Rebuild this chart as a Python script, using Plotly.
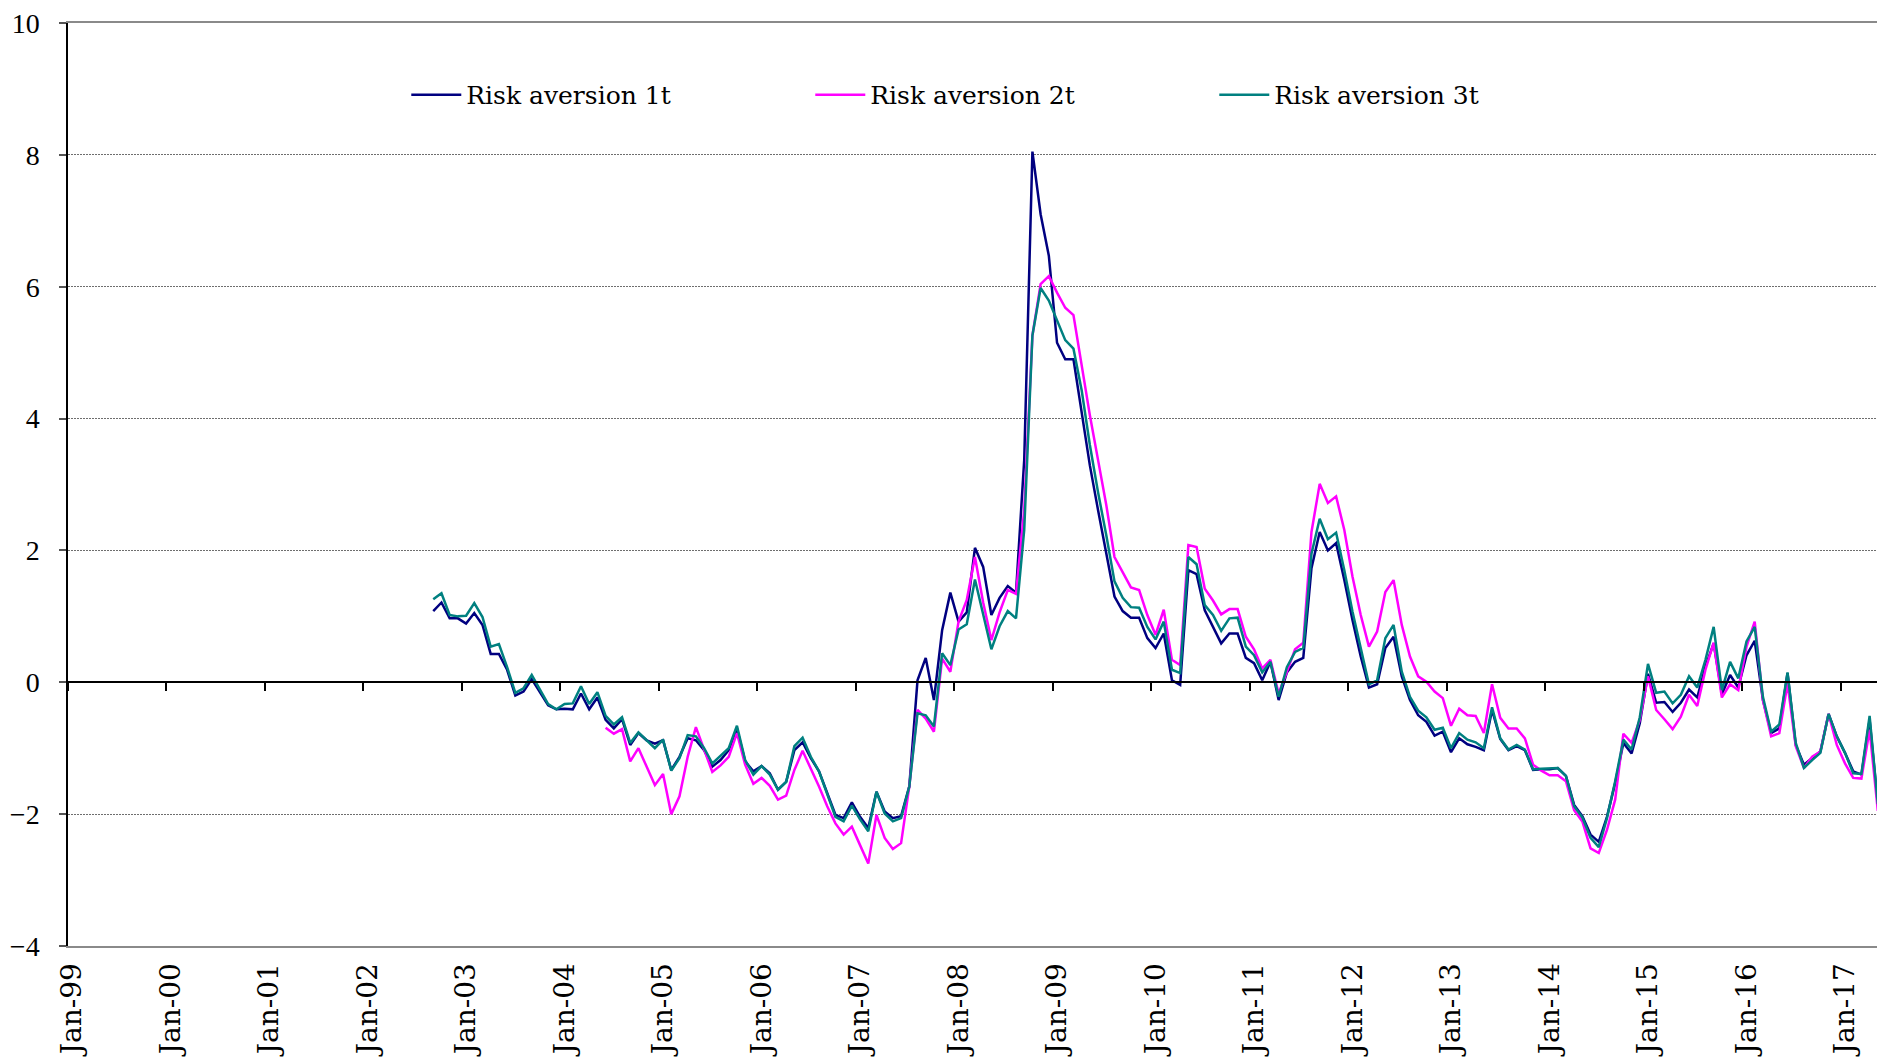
import plotly.graph_objects as go

# Monthly risk-aversion indices (three specifications)
AXIS_START = "1999-01"
AXIS_END = "2017-12"

start_1t = "2002-09"
risk_1t = [
    1.08, 1.21, 0.97, 0.97, 0.89, 1.05, 0.87, 0.43, 0.43, 0.19, -0.20, -0.14,
    0.05, -0.14, -0.35, -0.41, -0.40, -0.41, -0.17, -0.41, -0.23, -0.57, -0.70, -0.56,
    -0.95, -0.77, -0.88, -0.93, -0.88, -1.33, -1.13, -0.85, -0.88, -1.03, -1.28, -1.18,
    -1.03, -0.70, -1.20, -1.35, -1.27, -1.38, -1.63, -1.51, -1.03, -0.91, -1.15, -1.35,
    -1.68, -2.01, -2.06, -1.82, -2.04, -2.21, -1.66, -1.96, -2.06, -2.03, -1.58, 0.03,
    0.37, -0.27, 0.79, 1.36, 0.92, 1.06, 2.04, 1.75, 1.02, 1.28, 1.46, 1.36,
    3.37, 8.05, 7.10, 6.47, 5.15, 4.90, 4.90, 4.13, 3.29, 2.61, 1.93, 1.30,
    1.08, 0.98, 0.98, 0.67, 0.52, 0.74, 0.03, -0.04, 1.70, 1.64, 1.09, 0.84,
    0.59, 0.74, 0.74, 0.37, 0.29, 0.03, 0.31, -0.27, 0.15, 0.31, 0.37, 1.73,
    2.28, 2.00, 2.11, 1.55, 0.94, 0.39, -0.08, -0.03, 0.52, 0.69, 0.09, -0.27,
    -0.50, -0.60, -0.81, -0.75, -1.06, -0.85, -0.94, -0.98, -1.03, -0.42, -0.86, -1.03,
    -0.97, -1.03, -1.33, -1.32, -1.32, -1.30, -1.42, -1.86, -2.03, -2.31, -2.42, -2.04,
    -1.53, -0.92, -1.08, -0.62, 0.13, -0.31, -0.30, -0.45, -0.31, -0.11, -0.23, 0.24,
    0.59, -0.18, 0.11, -0.08, 0.41, 0.63, -0.27, -0.77, -0.70, 0.14, -0.95, -1.25,
    -1.15, -1.05, -0.48, -0.82, -1.07, -1.35, -1.40, -0.57, -1.85,
]

start_2t = "2004-06"
risk_2t = [
    -0.69, -0.78, -0.71, -1.20, -1.00, -1.28, -1.56,
    -1.39, -2.00, -1.73, -1.13, -0.68, -1.03, -1.36, -1.26, -1.13, -0.77, -1.25, -1.54,
    -1.45, -1.57, -1.78, -1.72, -1.33, -1.04, -1.30, -1.58, -1.88, -2.14, -2.31, -2.19,
    -2.47, -2.75, -2.01, -2.36, -2.53, -2.44, -1.58, -0.42, -0.55, -0.75, 0.36, 0.16,
    0.92, 1.25, 1.90, 1.21, 0.64, 1.06, 1.40, 1.34, 2.61, 5.26, 6.04, 6.16,
    5.91, 5.68, 5.57, 4.81, 4.05, 3.37, 2.69, 1.90, 1.67, 1.44, 1.40, 1.02,
    0.72, 1.10, 0.34, 0.26, 2.08, 2.05, 1.42, 1.24, 1.03, 1.11, 1.11, 0.69,
    0.50, 0.21, 0.34, -0.17, 0.16, 0.50, 0.60, 2.28, 3.01, 2.72, 2.82, 2.31,
    1.60, 1.02, 0.54, 0.77, 1.37, 1.55, 0.87, 0.39, 0.09, 0.01, -0.14, -0.24,
    -0.66, -0.40, -0.50, -0.51, -0.77, -0.03, -0.54, -0.70, -0.70, -0.85, -1.25, -1.34,
    -1.41, -1.41, -1.50, -1.94, -2.11, -2.52, -2.59, -2.24, -1.78, -0.78, -0.92, -0.57,
    0.09, -0.42, -0.56, -0.71, -0.52, -0.19, -0.36, 0.19, 0.60, -0.23, -0.03, -0.12,
    0.54, 0.92, -0.27, -0.82, -0.77, -0.02, -0.97, -1.30, -1.13, -1.05, -0.48, -0.95,
    -1.23, -1.45, -1.46, -0.72, -1.95,
]

start_3t = "2002-09"
risk_3t = [
    1.26, 1.35, 1.02, 1.00, 1.01, 1.20, 0.99, 0.54, 0.58, 0.23, -0.16, -0.09,
    0.11, -0.11, -0.33, -0.41, -0.33, -0.32, -0.06, -0.33, -0.15, -0.51, -0.64, -0.53,
    -0.92, -0.76, -0.88, -1.00, -0.87, -1.34, -1.15, -0.80, -0.82, -1.00, -1.23, -1.12,
    -1.00, -0.66, -1.18, -1.40, -1.27, -1.40, -1.63, -1.51, -0.97, -0.84, -1.13, -1.35,
    -1.68, -2.04, -2.11, -1.87, -2.08, -2.26, -1.66, -1.99, -2.11, -2.06, -1.58, -0.47,
    -0.50, -0.67, 0.44, 0.26, 0.80, 0.88, 1.56, 1.02, 0.50, 0.85, 1.08, 0.97,
    2.31, 5.26, 5.98, 5.79, 5.49, 5.19, 5.06, 4.43, 3.60, 2.88, 2.23, 1.53,
    1.28, 1.14, 1.13, 0.84, 0.65, 0.92, 0.19, 0.14, 1.90, 1.79, 1.17, 1.02,
    0.78, 0.97, 0.98, 0.54, 0.41, 0.15, 0.31, -0.22, 0.23, 0.46, 0.52, 1.95,
    2.48, 2.17, 2.27, 1.70, 1.07, 0.54, -0.03, 0.03, 0.67, 0.87, 0.16, -0.22,
    -0.43, -0.53, -0.72, -0.69, -1.00, -0.77, -0.87, -0.91, -1.00, -0.38, -0.85, -1.02,
    -0.95, -1.02, -1.32, -1.31, -1.31, -1.30, -1.42, -1.88, -2.05, -2.36, -2.50, -2.06,
    -1.50, -0.87, -1.02, -0.53, 0.28, -0.16, -0.14, -0.32, -0.19, 0.09, -0.08, 0.34,
    0.84, -0.12, 0.31, 0.06, 0.62, 0.84, -0.22, -0.75, -0.64, 0.15, -0.92, -1.30,
    -1.18, -1.07, -0.48, -0.82, -1.07, -1.38, -1.39, -0.51, -1.85,
]

series_names = ["Risk aversion 1t", "Risk aversion 2t", "Risk aversion 3t"]
series_colors = ["#000080", "#FF00FF", "#008080"]

Y_MIN, Y_MAX, Y_STEP = -4, 10, 2


def month_index(ym):
    """Months elapsed since the first category of the axis."""
    y0, m0 = map(int, AXIS_START.split("-"))
    y, m = map(int, ym.split("-"))
    return (y - y0) * 12 + (m - m0)


n_months = month_index(AXIS_END) + 1
jan_positions = list(range(0, n_months, 12))
jan_labels = ["Jan-%02d" % ((1999 + k) % 100) for k in range(len(jan_positions))]
year_boundaries = [p - 0.5 for p in jan_positions]

x_range = [-0.5, 219.9]

fig = go.Figure()
for name, color, start, vals in zip(
    series_names, series_colors,
    [start_1t, start_2t, start_3t],
    [risk_1t, risk_2t, risk_3t],
):
    s = month_index(start)
    fig.add_trace(go.Scatter(
        x=list(range(s, s + len(vals))), y=vals, name=name, mode="lines",
        line=dict(color=color, width=2.5),
    ))

# invisible carrier for the category axis drawn across y = 0
fig.add_trace(go.Scatter(
    x=year_boundaries, y=[None] * len(year_boundaries), xaxis="x2",
    showlegend=False, hoverinfo="skip", mode="lines",
))

fig.update_layout(
    width=1877, height=1060,
    margin=dict(l=68, r=0, t=23, b=114),
    paper_bgcolor="white", plot_bgcolor="white",
    showlegend=True,
    legend=dict(
        orientation="h", x=0.187, y=0.922, xanchor="left", yanchor="middle",
        entrywidth=339, entrywidthmode="pixels", itemwidth=50,
        font=dict(family="DejaVu Serif", size=25, color="black"),
        bgcolor="rgba(0,0,0,0)", traceorder="normal",
    ),
    xaxis=dict(
        range=x_range, tickmode="array", tickvals=jan_positions, ticktext=jan_labels,
        tickangle=-90, ticks="", showgrid=False, zeroline=False,
        showline=True, mirror=True, linecolor="#8a8a8a", linewidth=2,
        tickfont=dict(family="DejaVu Serif", size=28, color="black"),
        ticklabelstandoff=4,
    ),
    xaxis2=dict(
        overlaying="x", anchor="free", position=(0 - Y_MIN) / (Y_MAX - Y_MIN),
        range=x_range, tickmode="array", tickvals=year_boundaries,
        ticks="outside", ticklen=8, tickwidth=1.5, tickcolor="black",
        showline=True, linecolor="black", linewidth=1.5,
        showticklabels=False, showgrid=False, zeroline=False,
    ),
    yaxis=dict(
        range=[Y_MIN, Y_MAX], tickmode="linear", tick0=Y_MIN, dtick=Y_STEP,
        showgrid=True, gridcolor="#6e6e6e", gridwidth=1, griddash="2px,1px",
        zeroline=False, showline=True, linecolor="black", linewidth=1.5,
        ticks="outside", ticklen=7, tickwidth=1.5, tickcolor="#555555",
        tickfont=dict(family="Liberation Serif", size=28, color="black"),
        ticklabelstandoff=14,
    ),
)

fig.write_html("out.html")
